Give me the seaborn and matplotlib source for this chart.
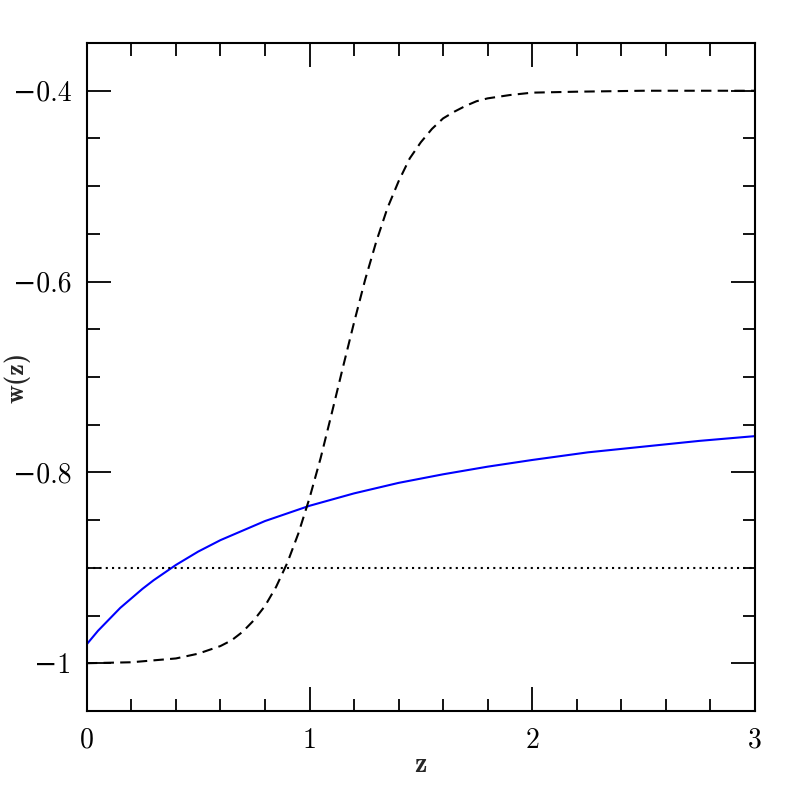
import matplotlib
matplotlib.use("Agg")
import matplotlib.pyplot as plt
import matplotlib.ticker as mticker
import seaborn as sns
import pandas as pd

# blue curve: smooth w(z)
z_blue = [0.0, 0.05, 0.1, 0.15, 0.2, 0.25, 0.3, 0.35, 0.4, 0.5, 0.6, 0.7, 0.8, 0.9, 1.0,
          1.2, 1.4, 1.6, 1.8, 2.0, 2.25, 2.5, 2.75, 3.0]
w_blue = [-0.980, -0.966, -0.954, -0.942, -0.932, -0.922, -0.913, -0.905, -0.897, -0.883,
          -0.871, -0.861, -0.851, -0.843, -0.835, -0.822, -0.811, -0.802, -0.794, -0.787,
          -0.779, -0.773, -0.767, -0.762]

# dashed curve: step-like transition from -1 to -0.4
z_dash = [0.0, 0.2, 0.4, 0.5, 0.6, 0.65, 0.7, 0.75, 0.8, 0.85, 0.9, 0.95, 1.0, 1.05, 1.1,
          1.15, 1.2, 1.25, 1.3, 1.35, 1.4, 1.45, 1.5, 1.55, 1.6, 1.65, 1.7, 1.75, 1.8, 1.9,
          2.0, 2.2, 2.5, 3.0]
w_dash = [-1.000, -0.999, -0.995, -0.990, -0.982, -0.976, -0.967, -0.955, -0.940, -0.920,
          -0.895, -0.864, -0.827, -0.785, -0.738, -0.690, -0.643, -0.598, -0.558, -0.523,
          -0.495, -0.471, -0.454, -0.440, -0.429, -0.422, -0.416, -0.411, -0.408, -0.4045,
          -0.402, -0.401, -0.400, -0.400]

# dotted constant line
z_dot = [0.0, 3.0]
w_dot = [-0.9, -0.9]

x_major = [0, 1, 2, 3]
y_major = [-1.0, -0.8, -0.6, -0.4]
y_labels = ["\u22121", "\u22120.8", "\u22120.6", "\u22120.4"]

sns.set_theme(style="ticks")
plt.rcParams['font.family'] = ['cmr10', 'DejaVu Serif']

fig = plt.figure(figsize=(7.97, 7.97), dpi=100)
ax = fig.add_axes([0.109, 0.108, 0.838, 0.838])

df_blue = pd.DataFrame({"z": z_blue, "w": w_blue})
df_dash = pd.DataFrame({"z": z_dash, "w": w_dash})
df_dot = pd.DataFrame({"z": z_dot, "w": w_dot})

sns.lineplot(data=df_blue, x="z", y="w", ax=ax, color="#0000ff", linewidth=1.5)
sns.lineplot(data=df_dash, x="z", y="w", ax=ax, color="black", linewidth=1.5)
ax.lines[-1].set_dashes([5, 3])
sns.lineplot(data=df_dot, x="z", y="w", ax=ax, color="black", linewidth=1.5)
ax.lines[-1].set_dashes([1, 2])

ax.set_xlim(0, 3)
ax.set_ylim(-1.05, -0.35)

ax.set_xticks(x_major)
ax.set_xticklabels([str(v) for v in x_major])
ax.set_yticks(y_major)
ax.set_yticklabels(y_labels)
ax.xaxis.set_minor_locator(mticker.MultipleLocator(0.2))
ax.yaxis.set_minor_locator(mticker.MultipleLocator(0.05))

ax.tick_params(which="both", direction="in", top=True, right=True, width=1.3,
               colors="black", labelsize=20)
ax.tick_params(which="major", length=17)
ax.tick_params(axis="y", which="major", pad=11)
ax.tick_params(axis="x", which="major", pad=12)
ax.tick_params(which="minor", length=9)
for s in ax.spines.values():
    s.set_linewidth(1.5)
    s.set_color("black")

ax.set_xlabel("z", fontsize=20, family=['cmb10', 'DejaVu Serif'])
ax.set_ylabel("w(z)", fontsize=19, family=['cmb10', 'DejaVu Serif'])
ax.xaxis.set_label_coords(0.5, -0.062)
ax.yaxis.set_label_coords(-0.085, 0.5)

fig.savefig("out.png", dpi=100)
